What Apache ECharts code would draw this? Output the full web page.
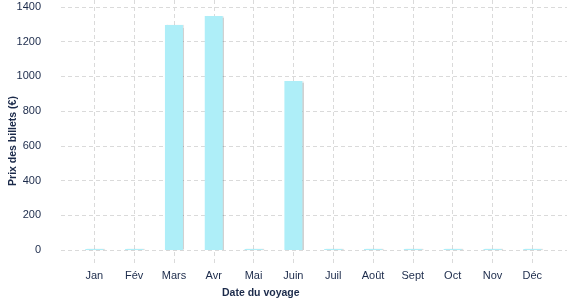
<!DOCTYPE html>
<html><head><meta charset="utf-8">
<script src="https://cdn.jsdelivr.net/npm/echarts@6/dist/echarts.min.js"></script>
<style>html,body{margin:0;padding:0;background:#fff}#c{width:577px;height:300px}</style>
</head><body><div id="c"></div>
<script>
var months = ['Jan','Fév','Mars','Avr','Mai','Juin','Juil','Août','Sept','Oct','Nov','Déc'];
var prices = [6, 6, 1296, 1348, 6, 974, 6, 6, 6, 6, 6, 6];
var yTicks = [0, 200, 400, 600, 800, 1000, 1200, 1400];
var xTitle = 'Date du voyage';
var yTitle = 'Prix des billets (€)';

var txt = '#1b2a4a';
var gridCol = '#dadada';
var font = 'Liberation Sans, Arial, sans-serif';
var chart = echarts.init(document.getElementById('c'), null, {renderer: 'canvas'});
chart.setOption({
  animation: false,
  grid: [
    {left: 61, right: 10, top: 7, bottom: 50},
    {left: 94.3, right: 44.7, top: 0, bottom: 35}
  ],
  xAxis: [
    {gridIndex: 0, type: 'value', show: false, min: 0, max: 1},
    {gridIndex: 1, type: 'category', data: months, boundaryGap: false,
     axisLine: {show: false}, axisTick: {show: false},
     axisLabel: {color: txt, fontFamily: font, fontSize: 11, margin: 5},
     splitLine: {show: true, lineStyle: {color: gridCol, type: [4, 3], width: 1}}}
  ],
  yAxis: [
    {gridIndex: 0, type: 'value', min: yTicks[0], max: yTicks[yTicks.length - 1], interval: 200,
     axisLine: {show: false}, axisTick: {show: false},
     axisLabel: {color: txt, fontFamily: font, fontSize: 11, margin: 20, formatter: function (v) { return String(v); }},
     splitLine: {show: true, lineStyle: {color: gridCol, type: [4, 3], width: 1}}},
    {gridIndex: 1, type: 'value', min: -86.4, max: 1440, show: false, splitLine: {show: false}}
  ],
  graphic: [
    {type: 'text', left: 222, top: 288, style: {text: xTitle, fill: txt, font: 'bold 10.5px ' + font}},
    {type: 'text', x: 13, y: 141, rotation: Math.PI / 2, style: {text: yTitle, fill: txt, font: 'bold 10.5px ' + font, align: 'center', verticalAlign: 'middle'}}
  ],
  series: [{
    type: 'bar', xAxisIndex: 1, yAxisIndex: 1, data: prices, barWidth: 18, clip: false,
    itemStyle: {color: '#aeeef8', shadowColor: 'rgba(0,0,0,0.18)', shadowOffsetX: 1.5, shadowOffsetY: 0, shadowBlur: 1}
  }]
});
</script></body></html>
